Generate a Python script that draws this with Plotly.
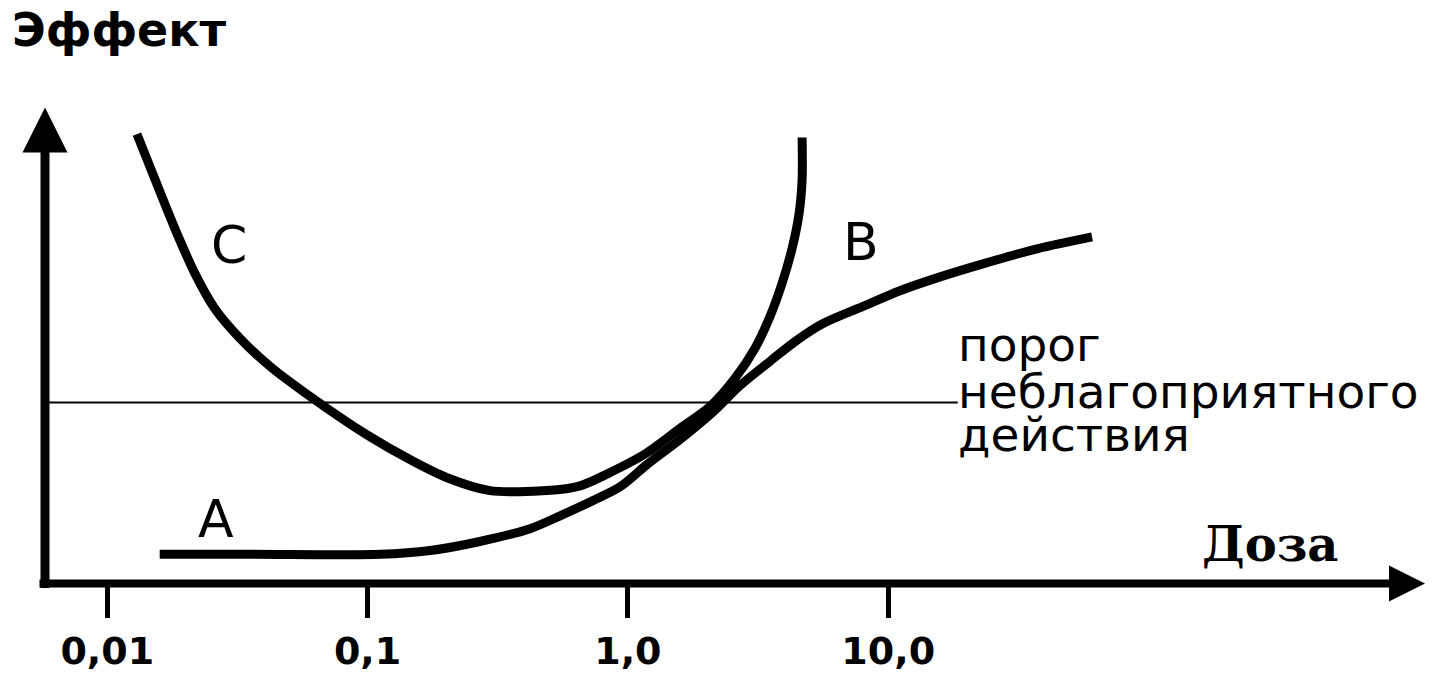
import plotly.graph_objects as go

W, H = 1447, 673

# ---- data ----
# Curve C: U-shaped curve that turns into a steep rise
c_dose = [0.0130, 0.01525, 0.0182, 0.02172, 0.02593, 0.03234, 0.04219, 0.06008,
          0.0995, 0.149, 0.202, 0.295, 0.489, 0.655, 0.877, 1.18, 1.59, 2.07,
          2.579, 3.078, 3.515, 3.908, 4.270, 4.543, 4.67, 4.67]
c_effect = [94.4, 84.9, 74.5, 65.1, 57.7, 51.5, 45.6, 39.3,
            31.2, 25.7, 22.2, 19.5, 19.5, 20.5, 23.6, 27.4, 32.6, 37.2,
            43.1, 49.4, 56.1, 63.0, 70.3, 77.6, 84.9, 93.7]

# Curve A -> B: flat start, rise, saturation
a_dose = [0.0159, 0.0353, 0.112, 0.174, 0.270, 0.421, 0.549, 0.734, 0.933, 1.18,
          1.59, 2.12, 2.70, 3.52, 4.46, 5.62, 8.00, 11.1, 15.4, 24.0, 37.3, 60.7]
a_effect = [6.1, 6.1, 6.1, 6.9, 8.8, 11.5, 14.2, 17.4, 20.3, 24.9,
            30.3, 36.0, 41.6, 46.7, 51.1, 54.6, 58.2, 61.5, 64.2, 67.4, 70.3, 72.8]

# threshold of adverse effect
threshold_effect = 38.0
threshold_dose = [0.004, 18.5]

tick_vals = [0.01, 0.1, 1, 10]
tick_text = ["0,01", "0,1", "1,0", "10,0"]

threshold_label = ["порог", "неблагоприятного", "действия"]
curve_labels = ["A", "B", "C"]


def px(x):
    return x / W


def py(y):
    return 1 - y / H


fig = go.Figure()

fig.add_trace(go.Scatter(
    x=threshold_dose, y=[threshold_effect, threshold_effect], mode="lines",
    line=dict(color="black", width=2), hoverinfo="skip", showlegend=False))

fig.add_trace(go.Scatter(
    x=a_dose, y=a_effect, mode="lines", name="A",
    line=dict(color="black", width=9, shape="spline", smoothing=0.9),
    showlegend=False))

fig.add_trace(go.Scatter(
    x=c_dose, y=c_effect, mode="lines", name="C",
    line=dict(color="black", width=9, shape="spline", smoothing=0.8),
    showlegend=False))

axis_y_px = 586
fig.update_layout(
    width=W, height=H,
    margin=dict(l=0, r=0, t=0, b=0),
    paper_bgcolor="white", plot_bgcolor="white",
    xaxis=dict(
        type="log", domain=[45 / W, 1], range=[-2.2393, 3.1468],
        anchor="free", position=(H - axis_y_px) / H,
        showgrid=False, zeroline=False, showline=False,
        tickvals=tick_vals, ticktext=tick_text,
        ticks="outside", ticklen=34, tickwidth=5, tickcolor="black",
        tickfont=dict(family="DejaVu Sans", size=38, color="black", weight="bold"),
    ),
    yaxis=dict(
        range=[(axis_y_px - H) / 4.78, axis_y_px / 4.78],
        showgrid=False, zeroline=False, showline=False,
        showticklabels=False, ticks="",
    ),
)

# axes with arrow heads
fig.add_annotation(
    x=px(1425), y=py(axis_y_px), xref="paper", yref="paper",
    ax=-(1425 - 38), ay=0, axref="pixel", ayref="pixel",
    showarrow=True, arrowhead=2, arrowsize=0.9, arrowwidth=8,
    arrowcolor="black", text="")
fig.add_annotation(
    x=px(45), y=py(108), xref="paper", yref="paper",
    ax=0, ay=590 - 108, axref="pixel", ayref="pixel",
    showarrow=True, arrowhead=2, arrowsize=1.0, arrowwidth=9,
    arrowcolor="black", text="")

# axis titles
fig.add_annotation(
    x=px(10), y=py(30), xref="paper", yref="paper", xanchor="left", yanchor="middle",
    text="<b>Эффект</b>", showarrow=False,
    font=dict(family="DejaVu Sans", size=46, color="black"))
fig.add_annotation(
    x=px(1200), y=py(546), xref="paper", yref="paper", xanchor="left", yanchor="middle",
    text="<b>Доза</b>", showarrow=False,
    font=dict(family="DejaVu Serif", size=48, color="black"))

# threshold label
for txt, yy in zip(threshold_label, [346, 393, 436]):
    fig.add_annotation(
        x=px(956), y=py(yy), xref="paper", yref="paper", xanchor="left", yanchor="middle",
        text=txt, showarrow=False,
        font=dict(family="DejaVu Sans", size=47, color="black"))

# curve letters
for txt, (xx, yy) in zip(curve_labels, [(216, 521), (861, 243), (229, 246)]):
    fig.add_annotation(
        x=px(xx), y=py(yy), xref="paper", yref="paper", xanchor="center", yanchor="middle",
        text=txt, showarrow=False,
        font=dict(family="DejaVu Sans", size=52, color="black"))

fig.write_html("out.html", config={"displayModeBar": False},
               post_script="document.body.style.margin='0';")
